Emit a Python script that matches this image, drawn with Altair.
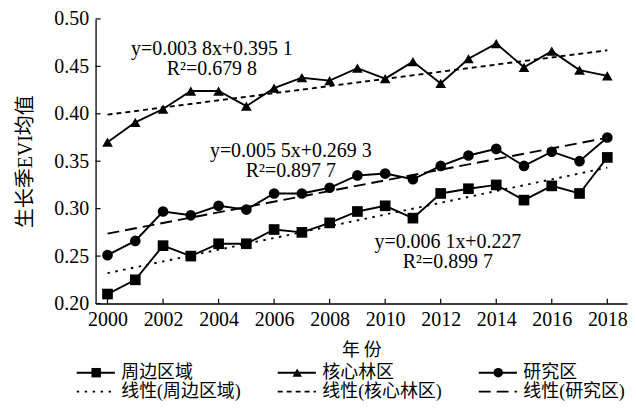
import altair as alt
import pandas as pd

# ---------------- data ----------------
years = list(range(2000, 2019))
periphery = [0.210, 0.225, 0.261, 0.250, 0.263, 0.263, 0.278, 0.275, 0.285, 0.297,
             0.303, 0.290, 0.316, 0.321, 0.325, 0.309, 0.324, 0.316, 0.354]
core = [0.370, 0.391, 0.405, 0.424, 0.424, 0.408, 0.427, 0.438, 0.435, 0.448,
        0.437, 0.455, 0.432, 0.458, 0.474, 0.449, 0.466, 0.446, 0.440]
study = [0.251, 0.266, 0.297, 0.293, 0.303, 0.299, 0.316, 0.316, 0.322, 0.335,
         0.337, 0.331, 0.345, 0.356, 0.363, 0.345, 0.360, 0.350, 0.375]
series_names = ["周边区域", "核心林区", "研究区"]
trend_names = ["线性(周边区域)", "线性(核心林区)", "线性(研究区)"]
equations = ["y=0.006 1x+0.227", "y=0.003 8x+0.395 1", "y=0.005 5x+0.269 3"]
r2_labels = ["R²=0.899 7", "R²=0.679 8", "R²=0.897 7"]
x_tick_values = list(range(2000, 2019, 2))
y_tick_values = [0.20, 0.25, 0.30, 0.35, 0.40, 0.45, 0.50]

# annotation anchors (data units)
ann_year = [2012.26, 2003.76, 2006.6]
ann_value = [0.2589, 0.4621, 0.3547]

SERIF = "Liberation Serif, Noto Sans CJK SC"

df = pd.DataFrame({
    "year": years * 3,
    "EVI": periphery + core + study,
    "series": [n for n in series_names for _ in years],
})
ann_df = pd.DataFrame({"year": ann_year, "EVI": ann_value, "eq": equations, "r2": r2_labels})
xt_df = pd.DataFrame({"t": x_tick_values})
yt_df = pd.DataFrame({"t": y_tick_values})

X0, X1 = 1999.57, 2018.71
W = 534
xscale = alt.Scale(domain=[X0, X1], nice=False, zero=False)
yscale = alt.Scale(domain=[0.2, 0.5], nice=False, zero=False)
shape_scale = alt.Scale(domain=series_names, range=["square", "triangle-up", "circle"])
dash_scale = alt.Scale(domain=series_names, range=[[2.5, 5.5], [5, 4], [12, 6]])

x_enc = alt.X("year:Q", scale=xscale,
              axis=alt.Axis(values=x_tick_values, format="d", title="年 份", ticks=False,
                            labelPadding=6, titleX=267, titleY=52, titleBaseline="alphabetic",
                            titleAlign="center", titleFontSize=18, titleFont="Noto Sans CJK SC"))
y_enc = alt.Y("EVI:Q", scale=yscale,
              axis=alt.Axis(values=y_tick_values, format=".2f", title="生长季EVI均值", ticks=False,
                            labelPadding=7, titlePadding=18, titleFontSize=20, titleFont=SERIF))

base = alt.Chart(df)
lines = base.mark_line(color="black", strokeWidth=1.9).encode(x=x_enc, y=y_enc, detail="series:N")
points = base.mark_point(filled=True, color="black", opacity=1, size=115).encode(
    x="year:Q", y="EVI:Q",
    shape=alt.Shape("series:N", scale=shape_scale, legend=None))
trend = base.transform_regression(
    "year", "EVI", groupby=["series"], extent=[2000, 2018]
).mark_line(color="black", strokeWidth=1.9).encode(
    x="year:Q", y="EVI:Q",
    strokeDash=alt.StrokeDash("series:N", scale=dash_scale, legend=None))

eq_text = alt.Chart(ann_df).mark_text(font=SERIF, fontSize=20, baseline="alphabetic",
                                      align="center", color="black").encode(
    x="year:Q", y="EVI:Q", text="eq:N")
r2_text = alt.Chart(ann_df).mark_text(font=SERIF, fontSize=20, baseline="alphabetic",
                                      align="center", color="black", dy=20).encode(
    x="year:Q", y="EVI:Q", text="r2:N")

xticks = alt.Chart(xt_df).transform_calculate(y0="0.2", y1="0.205").mark_rule(
    color="black", strokeWidth=1.2).encode(x="t:Q", y="y0:Q", y2="y1:Q")
yticks = alt.Chart(yt_df).transform_calculate(x0=str(X0), x1=str(X0 + 0.18)).mark_rule(
    color="black", strokeWidth=1.2).encode(y="t:Q", x="x0:Q", x2="x1:Q")

main = alt.layer(trend, lines, points, xticks, yticks, eq_text, r2_text).properties(
    width=W, height=286)

# ---------------- legend ----------------
leg_df = pd.DataFrame({
    "label": series_names + trend_names,
    "row": [0, 0, 0, 1, 1, 1],
    "col": [0, 1, 2, 0, 1, 2],
    "series": series_names * 2,
})
lx = alt.Scale(domain=[0.094, 0.094 + W / 202], nice=False, zero=False)
ly = alt.Scale(domain=[-0.5, 1.5], reverse=True, nice=False, zero=False)
leg_base = alt.Chart(leg_df).transform_calculate(
    a="datum.col", b="datum.col + 0.19", m="datum.col + 0.097", tx="datum.col + 0.222")
leg_solid = leg_base.transform_filter("datum.row == 0").mark_rule(
    color="black", strokeWidth=1.9).encode(
    x=alt.X("a:Q", scale=lx, axis=None), x2="b:Q",
    y=alt.Y("row:Q", scale=ly, axis=None))
leg_dash = leg_base.transform_filter("datum.row == 1").mark_rule(
    color="black", strokeWidth=1.9).encode(
    x=alt.X("a:Q", scale=lx, axis=None), x2="b:Q",
    y=alt.Y("row:Q", scale=ly, axis=None),
    strokeDash=alt.StrokeDash("series:N", scale=dash_scale, legend=None))
leg_pts = leg_base.transform_filter("datum.row == 0").mark_point(
    filled=True, color="black", opacity=1, size=90).encode(
    x=alt.X("m:Q", scale=lx, axis=None), y=alt.Y("row:Q", scale=ly, axis=None),
    shape=alt.Shape("series:N", scale=shape_scale, legend=None))
leg_txt = leg_base.mark_text(
    font=SERIF, fontSize=18, align="left", baseline="middle", color="black").encode(
    x=alt.X("tx:Q", scale=lx, axis=None), y=alt.Y("row:Q", scale=ly, axis=None), text="label:N")
legend = alt.layer(leg_solid, leg_dash, leg_pts, leg_txt).properties(width=W, height=38)

chart = alt.vconcat(main, legend, spacing=4).properties(
    padding={"left": 8, "top": 0, "right": 0, "bottom": 0}
).configure_view(stroke=None).configure_axis(
    domainColor="black", domainWidth=1.3, labelColor="black", titleColor="black",
    labelFont="Liberation Serif", labelFontSize=20, titleFontWeight="normal", grid=False
)

chart.save("out.html", embed_options={"renderer": "svg", "actions": False})
